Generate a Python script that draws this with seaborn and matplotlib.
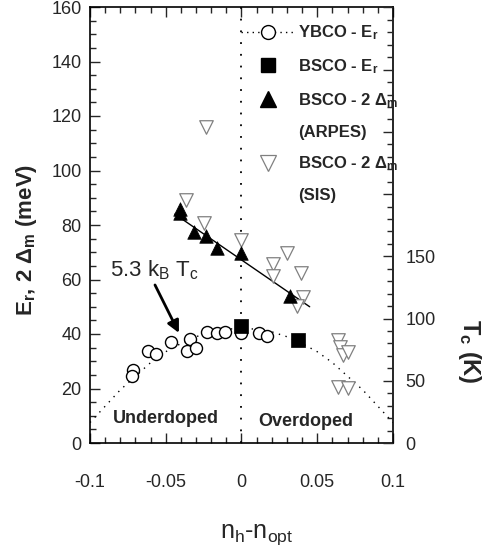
import numpy as np
import pandas as pd
import matplotlib
matplotlib.use('Agg')
import matplotlib.pyplot as plt
import seaborn as sns
from matplotlib.lines import Line2D
from matplotlib.ticker import MultipleLocator, FuncFormatter

# YBCO resonance energy E_r (open circles)
ybco_x = [-0.0714, -0.0725, -0.0615, -0.0566, -0.0467, -0.034, -0.0358, -0.030,
          -0.0226, -0.016, -0.0109, 0.0, 0.0117, 0.0166]
ybco_y = [26.8, 24.6, 33.8, 32.7, 37.0, 38.2, 33.9, 34.8,
          40.9, 40.4, 40.9, 40.5, 40.3, 39.4]

# BSCO resonance energy E_r (filled squares)
bsco_er_x = [0.0, 0.037]
bsco_er_y = [43.0, 37.8]

# BSCO 2 Delta_m from ARPES (filled triangles)
arpes_x = [-0.0405, -0.0405, -0.0312, -0.0234, -0.0164, 0.0, 0.032]
arpes_y = [85.8, 84.4, 77.6, 75.8, 71.7, 69.9, 54.0]

# straight line through the ARPES points
arpes_fit_x = [-0.044, 0.045]
arpes_fit_y = [84.0, 50.0]

# BSCO 2 Delta_m from SIS tunnelling (open down triangles)
sis_x = [-0.0234, -0.0366, -0.0246, 0.0, 0.0298, 0.021, 0.021, 0.039, 0.0408,
         0.0364, 0.0639, 0.065, 0.0672, 0.0705, 0.0639, 0.0705]
sis_y = [116.0, 89.3, 80.7, 74.6, 69.7, 65.7, 61.3, 62.3, 53.7,
         50.1, 37.8, 35.4, 32.3, 33.5, 20.7, 20.1]

# Tc dome (meV units of the left axis)
dome_x = [-0.10, -0.09, -0.08, -0.07, -0.06, -0.05, -0.04, -0.03, -0.02, -0.01, 0.0,
          0.01, 0.02, 0.03, 0.04, 0.05, 0.06, 0.07, 0.08, 0.09, 0.10]
dome_y = [7.5, 13.5, 19.5, 24.5, 29.5, 33.5, 36.5, 39.0, 40.8, 41.8, 42.0,
          41.8, 40.8, 39.0, 36.5, 33.5, 29.5, 24.5, 19.5, 13.5, 7.5]

# legend texts
legend_labels = ['YBCO - E$_r$', 'BSCO - E$_r$', 'BSCO - 2 Δ$_m$', '(ARPES)',
                 'BSCO - 2 Δ$_m$', '(SIS)']

# 5.3 k_B T_c  ->  meV per K
mev_per_k = 5.3 * 0.08617

sns.set_style('ticks')
plt.rcParams['font.family'] = ['Liberation Sans', 'DejaVu Sans']
plt.rcParams['mathtext.default'] = 'regular'

fig = plt.figure(figsize=(4.89, 5.52), dpi=100)
ax = fig.add_axes([90 / 489, 1 - 443 / 552, 303 / 489, 436 / 552])

# dome and the optimal doping line
sns.lineplot(x=dome_x, y=dome_y, ax=ax, color='k', linewidth=1.0,
             linestyle=(0, (1, 4)), estimator=None, sort=False)
ax.axvline(0, color='k', linewidth=1.3, linestyle=(0, (1, 5.5)))

# ARPES fit line
sns.lineplot(x=arpes_fit_x, y=arpes_fit_y, ax=ax, color='k', linewidth=1.0,
             estimator=None, sort=False)

sns.scatterplot(x=sis_x, y=sis_y, ax=ax, marker='v', s=95, facecolor='white',
                edgecolor='#808080', linewidth=0.9, zorder=3)
sns.scatterplot(x=ybco_x, y=ybco_y, ax=ax, marker='o', s=75, facecolor='white',
                edgecolor='k', linewidth=1.0, zorder=3)
sns.scatterplot(x=arpes_x, y=arpes_y, ax=ax, marker='^', s=95, color='k',
                edgecolor='k', linewidth=0.5, zorder=4)
sns.scatterplot(x=bsco_er_x, y=bsco_er_y, ax=ax, marker='s', s=95, color='k',
                edgecolor='k', linewidth=0.5, zorder=4)

ax.set_xlim(-0.1, 0.1)
ax.set_ylim(0, 160)
ax.xaxis.set_major_locator(MultipleLocator(0.05))
ax.xaxis.set_minor_locator(MultipleLocator(0.01))
ax.yaxis.set_major_locator(MultipleLocator(20))
ax.yaxis.set_minor_locator(MultipleLocator(5))
ax.xaxis.set_major_formatter(FuncFormatter(
    lambda v, p: '0' if abs(v) < 1e-9 else ('%g' % v)))
ax.tick_params(axis='both', which='both', direction='in', top=True, right=False,
               width=1.0, labelsize=13)
ax.tick_params(axis='both', which='major', length=7)
ax.tick_params(axis='both', which='minor', length=4)
ax.tick_params(axis='x', which='major', pad=22)
ax.tick_params(axis='y', which='major', pad=6)
for sp in ax.spines.values():
    sp.set_linewidth(1.2)
    sp.set_color('k')

ax.set_ylabel('E$_r$, 2 Δ$_m$ (meV)', fontsize=16, fontweight='bold', va='center')
ax.yaxis.set_label_coords(-0.21, 0.465)
ax.set_xlabel('n$_h$-n$_{opt}$', fontsize=18, va='baseline')
ax.xaxis.set_label_coords(0.55, -0.218)

# right axis: T_c in K
ax2 = ax.twinx()
ax2.set_ylim(0, 160 / mev_per_k)
ax2.yaxis.set_major_locator(MultipleLocator(50))
ax2.yaxis.set_minor_locator(MultipleLocator(10))
ax2.yaxis.set_major_formatter(FuncFormatter(
    lambda v, p: '%d' % v if v <= 150 else ''))
ax2.tick_params(axis='y', which='both', direction='in', width=1.0, labelsize=13)
ax2.tick_params(axis='y', which='major', length=7, pad=9)
ax2.tick_params(axis='y', which='minor', length=4)
ax2.set_ylabel('T$_c$ (K)', fontsize=17, fontweight='bold', rotation=270,
               va='center')
ax2.yaxis.set_label_coords(1.254, 0.21)
for sp in ax2.spines.values():
    sp.set_visible(False)

ax.text(-0.05, 9.0, 'Underdoped', fontsize=13, fontweight='bold',
        ha='center', va='center')
ax.text(0.0425, 8.0, 'Overdoped', fontsize=13, fontweight='bold',
        ha='center', va='center')

ax.annotate('', xy=(-0.0413, 40.4), xytext=(-0.0571, 58.0),
            arrowprops=dict(arrowstyle='-|>', color='k', lw=2.0,
                            mutation_scale=18, shrinkA=0, shrinkB=0))
ax.text(-0.087, 61, '5.3 k$_B$ T$_c$', fontsize=16, ha='left', va='baseline')

blank = Line2D([], [], linestyle='none', marker='none')
handles = [
    Line2D([], [], color='k', linestyle=(0, (1, 3)), linewidth=1.0, marker='o',
           markerfacecolor='white', markeredgecolor='k', markersize=10),
    Line2D([], [], linestyle='none', marker='s', color='k', markersize=10),
    Line2D([], [], linestyle='none', marker='^', color='k', markersize=11),
    blank,
    Line2D([], [], linestyle='none', marker='v', markerfacecolor='white',
           markeredgecolor='#808080', markeredgewidth=0.9, markersize=11),
    blank,
]
ax.legend(handles, legend_labels, loc='upper left', bbox_to_anchor=(0.5, 0.962),
          frameon=False, borderpad=0, borderaxespad=0, handlelength=3.2,
          handletextpad=0.2, labelspacing=0.9,
          prop={'weight': 'bold', 'size': 12})

fig.savefig('out.png', dpi=100)
